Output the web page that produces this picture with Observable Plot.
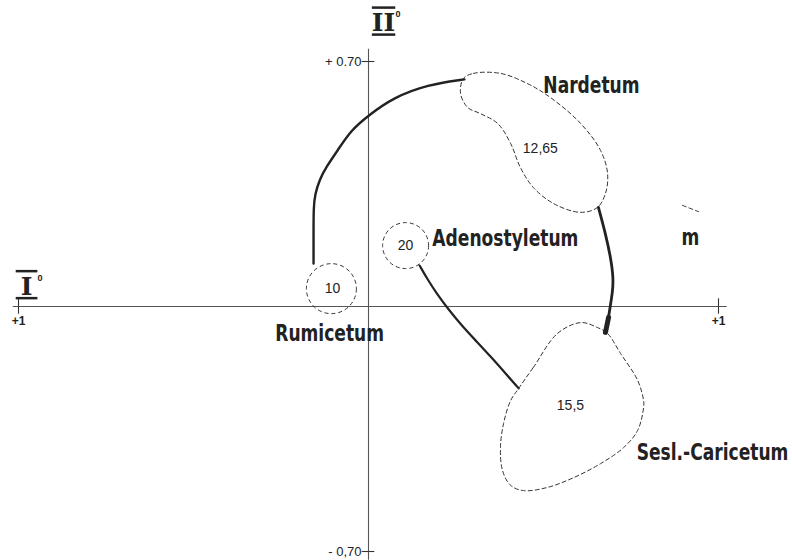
<!DOCTYPE html>
<html>
<head>
<meta charset="utf-8">
<script src="https://cdn.jsdelivr.net/npm/d3@7"></script>
<script src="https://cdn.jsdelivr.net/npm/@observablehq/plot@0.6"></script>
<style>
  html, body { margin: 0; padding: 0; background: #fff; }
</style>
</head>
<body>
<script>
// ---- Data (ordination scores) ----
// Trajectory Rumicetum -> Nardetum (thick solid)
const arcRumNarX = [-0.157, -0.157, -0.157, -0.153, -0.140, -0.120, -0.090, -0.051, 0.000, 0.071, 0.169, 0.274];
const arcRumNarY = [ 0.123,  0.203,  0.283,  0.320,  0.362,  0.400,  0.443,  0.503, 0.546, 0.597, 0.634, 0.649];
// Trajectory Nardetum -> Sesl.-Caricetum (thick solid)
const arcNarSesX = [0.657, 0.677, 0.692, 0.700, 0.697, 0.691, 0.686, 0.677];
const arcNarSesY = [0.283, 0.209, 0.140, 0.080, 0.040, 0.003, -0.031, -0.074];
// Trajectory Adenostyletum -> Sesl.-Caricetum (solid)
const arcAdeSesX = [0.146, 0.169, 0.197, 0.229, 0.266, 0.306, 0.349, 0.394, 0.429];
const arcAdeSesY = [0.117, 0.077, 0.034, -0.009, -0.054, -0.097, -0.143, -0.194, -0.234];
// Nardetum envelope (dashed)
const nardX = [0.271, 0.300, 0.377, 0.454, 0.520, 0.606, 0.663, 0.683, 0.677, 0.654, 0.606, 0.529, 0.471, 0.434, 0.406, 0.369, 0.320, 0.283, 0.263];
const nardY = [0.651, 0.666, 0.666, 0.637, 0.597, 0.523, 0.446, 0.380, 0.323, 0.283, 0.269, 0.294, 0.340, 0.397, 0.466, 0.523, 0.551, 0.569, 0.609];
// Sesl.-Caricetum envelope (dashed)
const seslX = [0.429, 0.471, 0.540, 0.606, 0.654, 0.683, 0.720, 0.769, 0.786, 0.786, 0.769, 0.729, 0.663, 0.586, 0.511, 0.443, 0.406, 0.383, 0.377, 0.386, 0.406];
const seslY = [-0.234, -0.174, -0.077, -0.046, -0.060, -0.077, -0.134, -0.211, -0.269, -0.289, -0.354, -0.403, -0.449, -0.489, -0.517, -0.526, -0.511, -0.469, -0.403, -0.334, -0.269];
// Small circular envelopes: Rumicetum (10), Adenostyletum (20)
const circleX = [-0.106, 0.106];
const circleY = [0.051, 0.174];
const circleR = [25, 23];
// dashed stub near "m"
const stubX = [0.897, 0.943];
const stubY = [0.289, 0.271];
// community labels
const labelText = ["Nardetum", "Adenostyletum", "m", "Rumicetum", "Sesl.-Caricetum"];
const labelX = [0.637, 0.391, 0.920, -0.111, 0.983];
const labelY = [0.631, 0.194, 0.197, -0.077, -0.417];
// group values
const valueText = ["10", "20", "12,65", "15,5"];
const valueX = [-0.103, 0.106, 0.491, 0.577];
const valueY = [0.051, 0.174, 0.451, -0.283];
// axes
const xAxisExtent = [-1.015, 1.025];
const yAxisExtent = [-0.725, 0.735];
const xTicks = [-1, 1];
const xTickLabels = ["+1", "+1"];
const yTicks = [0.70, -0.70];
const yTickLabels = ["+ 0.70", "- 0,70"];
const axisNames = ["\u2009I\u2009", "II"];
const axisNameX = [-0.977, 0.043];
const axisNameY = [0.056, 0.809];
const axisSup = "0";

// ---- Build tables ----
const zip = (xs, ys) => xs.map((x, i) => ({x, y: ys[i]}));
const arc1 = zip(arcRumNarX, arcRumNarY);
const arc2 = zip(arcNarSesX, arcNarSesY);
const arc3 = zip(arcAdeSesX, arcAdeSesY);
const nard = zip(nardX, nardY);
const sesl = zip(seslX, seslY);
const stub = zip(stubX, stubY);
const circles = circleX.map((x, i) => ({x, y: circleY[i], r: circleR[i]}));
const labels = labelText.map((t, i) => ({t, x: labelX[i], y: labelY[i]}));
const values = valueText.map((t, i) => ({t, x: valueX[i], y: valueY[i]}));
const xt = xTicks.map((x, i) => ({x, t: xTickLabels[i]}));
const yt = yTicks.map((y, i) => ({y, t: yTickLabels[i]}));
const names = axisNames.map((t, i) => ({t, x: axisNameX[i], y: axisNameY[i]}));

const ink = "#222";
const condensed = "'DejaVu Sans Condensed', 'Liberation Sans Narrow', 'DejaVu Sans', sans-serif";
const plain = "'Liberation Sans', Arial, sans-serif";

const svg = Plot.plot({
  width: 792,
  height: 560,
  margin: 0,
  x: {domain: [-368 / 350, 424 / 350], axis: null},
  y: {domain: [-254 / 350, 306 / 350], axis: null},
  r: {type: "identity"},
  style: {background: "#fff"},
  marks: [
    // axes
    Plot.ruleY([0], {x1: xAxisExtent[0], x2: xAxisExtent[1], stroke: "#555", strokeWidth: 1.1}),
    Plot.ruleX([0], {y1: yAxisExtent[0], y2: yAxisExtent[1], stroke: "#555", strokeWidth: 1.1}),
    Plot.ruleX(xt, {x: "x", y1: -0.022, y2: 0.022, stroke: "#333", strokeWidth: 1.1}),
    Plot.ruleY(yt, {y: "y", x1: -0.018, x2: 0.018, stroke: "#333", strokeWidth: 1.1}),
    Plot.text(xt, {x: "x", y: 0, text: "t", dy: 15, fontSize: 12, fontWeight: "bold", fontFamily: plain, fill: "#222"}),
    Plot.text(yt, {x: 0, y: "y", text: "t", dx: -7, textAnchor: "end", fontSize: 13, fontFamily: plain, fill: "#222"}),
    Plot.text(names, {x: "x", y: "y", text: "t", fontSize: 25, fontWeight: "bold", fontFamily: "'DejaVu Serif', serif", fill: "#222"}),
    Plot.text(names.slice(0, 1), {x: "x", y: "y", text: () => axisSup, dx: 11, dy: -9, textAnchor: "start", fontSize: 9, fontWeight: "bold", fontFamily: plain, fill: "#222"}),
    Plot.text(names.slice(1), {x: "x", y: "y", text: () => axisSup, dx: 12, dy: -9, textAnchor: "start", fontSize: 9, fontWeight: "bold", fontFamily: plain, fill: "#222"}),
    // envelopes
    Plot.line(nard, {x: "x", y: "y", curve: "catmull-rom-closed", stroke: "#333", strokeWidth: 1, strokeDasharray: "4,3"}),
    Plot.line(sesl, {x: "x", y: "y", curve: "catmull-rom-closed", stroke: "#333", strokeWidth: 1, strokeDasharray: "4,3"}),
    Plot.dot(circles, {x: "x", y: "y", r: "r", stroke: "#333", strokeWidth: 1, fill: "none", strokeDasharray: "4,3"}),
    Plot.line(stub, {x: "x", y: "y", stroke: "#444", strokeWidth: 1, strokeDasharray: "4,3"}),
    // trajectories
    Plot.line(arc1, {x: "x", y: "y", curve: "basis", stroke: ink, strokeWidth: 2.4}),
    Plot.line(arc2, {x: "x", y: "y", curve: "basis", stroke: ink, strokeWidth: 2.8}),
    Plot.line(arc2.slice(-2), {x: "x", y: "y", stroke: ink, strokeWidth: 5}),
    Plot.line(arc3, {x: "x", y: "y", curve: "basis", stroke: ink, strokeWidth: 2.2}),
    // labels
    Plot.text(labels, {x: "x", y: "y", text: "t", fontSize: 19, fontWeight: "bold", fontFamily: condensed, fill: "#222"}),
    Plot.text(values, {x: "x", y: "y", text: "t", fontSize: 14, fontFamily: plain, fill: "#222"})
  ]
});
const sel = d3.select(svg).selectAll("text");
// underline / overline the Roman axis numerals like the original lettering
sel.filter(function () { return axisNames.includes(this.textContent); })
  .style("text-decoration", "underline overline");
// tall, narrow lettering of the community names
sel.filter(function () { return labelText.includes(this.textContent); })
  .each(function () {
    const el = d3.select(this);
    const tr = el.attr("transform");
    if (tr) {
      el.attr("transform", tr + " scale(1,1.22)");
    } else {
      const x = +el.attr("x") || 0, y = +el.attr("y") || 0;
      el.attr("x", null).attr("y", null).attr("transform", `translate(${x},${y}) scale(1,1.22)`);
    }
  });
document.body.appendChild(svg);
</script>
</body>
</html>
